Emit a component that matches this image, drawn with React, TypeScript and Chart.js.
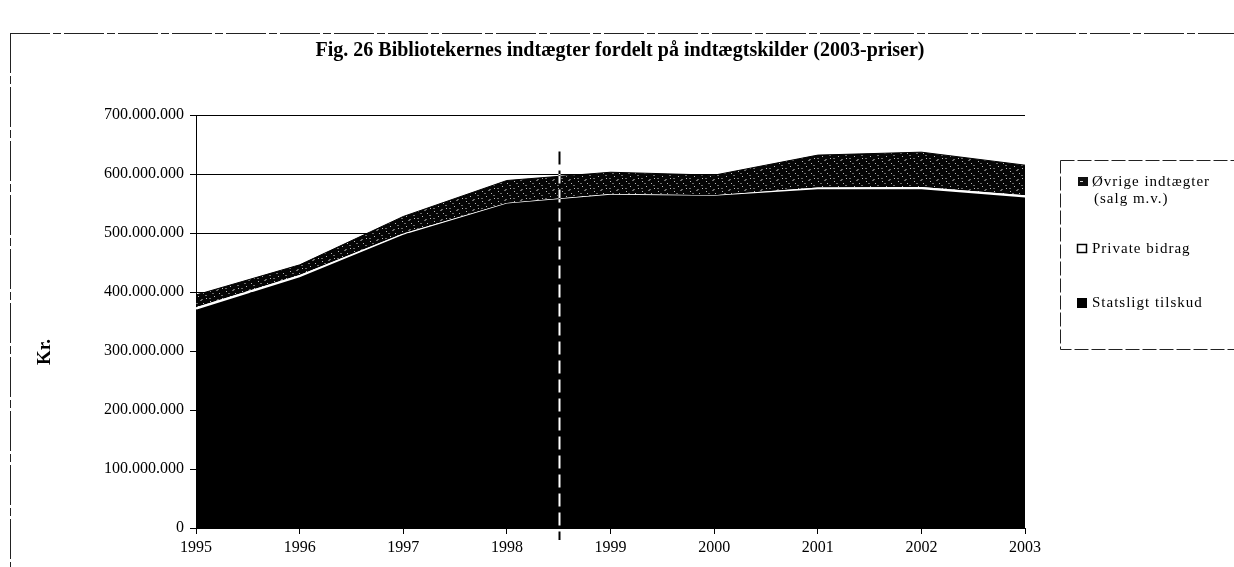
import React, { useEffect, useRef } from "react";
import { Chart, registerables } from "chart.js";

Chart.register(...registerables);

// Data (mio. kr., 2003-priser)
const years = ["1995", "1996", "1997", "1998", "1999", "2000", "2001", "2002", "2003"];
const statsligtTilskud = [370, 425, 497, 550, 565, 563, 574, 574, 560];
const privateBidrag = [4, 4, 2, 1, 1, 1, 3, 4, 4];
const oevrigeIndtaegter = [21, 17, 29, 38, 37, 34, 55, 59, 51];
const yTickValues = [0, 100, 200, 300, 400, 500, 600, 700];

const titleText = "Fig. 26 Bibliotekernes indtægter fordelt på indtægtskilder (2003-priser)";
const yAxisTitle = "Kr.";
const legendOevrige = ["Øvrige indtægter", "(salg m.v.)"];
const legendPrivate = "Private bidrag";
const legendStat = "Statsligt tilskud";

const MIO = 1000000;
const SERIF = "'Liberation Serif', 'DejaVu Serif', serif";

function fmt(v: number): string {
  return Math.round(v).toString().replace(/\B(?=(\d{3})+(?!\d))/g, ".");
}

function makePattern(): CanvasPattern | string {
  const c = document.createElement("canvas");
  c.width = 16;
  c.height = 10;
  const g = c.getContext("2d");
  if (!g) return "#111";
  g.fillStyle = "#050505";
  g.fillRect(0, 0, 16, 10);
  g.fillStyle = "#bdbdbd";
  const light = [[2, 1], [11, 3], [6, 6], [14, 8]];
  light.forEach(([x, y]) => g.fillRect(x, y, 1, 1));
  g.fillStyle = "#6a6a6a";
  const mid = [[8, 0], [4, 3], [13, 5], [1, 8], [9, 9]];
  mid.forEach(([x, y]) => g.fillRect(x, y, 2, 1));
  const p = g.createPattern(c, "repeat");
  return p || "#111";
}

const decorPlugin = {
  id: "decor",
  beforeDraw(chart: any) {
    const ctx = chart.ctx as CanvasRenderingContext2D;
    ctx.save();
    ctx.fillStyle = "#fff";
    ctx.fillRect(0, 0, chart.width, chart.height);
    // outer frame
    ctx.strokeStyle = "#222";
    ctx.lineWidth = 1;
    ctx.setLineDash([40, 3, 8, 3]);
    ctx.beginPath();
    ctx.moveTo(10, 33.5);
    ctx.lineTo(1234, 33.5);
    ctx.moveTo(10.5, 33);
    ctx.lineTo(10.5, 567);
    ctx.stroke();
    ctx.setLineDash([]);
    // title
    ctx.fillStyle = "#000";
    ctx.font = `bold 20px ${SERIF}`;
    ctx.textAlign = "center";
    ctx.textBaseline = "middle";
    ctx.fillText(titleText, 620, 51);
    // y axis title
    ctx.save();
    ctx.translate(45, 352);
    ctx.rotate(-Math.PI / 2);
    ctx.font = `bold 19px ${SERIF}`;
    ctx.fillText(yAxisTitle, 0, 0);
    ctx.restore();
    ctx.restore();
  },
  afterDraw(chart: any) {
    const ctx = chart.ctx as CanvasRenderingContext2D;
    const xs = chart.scales.x;
    const ys = chart.scales.y;
    ctx.save();
    // dashed separator between 1998 and 1999
    const xm = Math.round((xs.getPixelForValue(3) + xs.getPixelForValue(4)) / 2) + 0.5;
    ctx.globalCompositeOperation = "difference";
    ctx.strokeStyle = "#fff";
    ctx.lineWidth = 2;
    ctx.setLineDash([13, 6]);
    ctx.beginPath();
    ctx.moveTo(xm, ys.getPixelForValue(638 * MIO));
    ctx.lineTo(xm, ys.bottom + 12);
    ctx.stroke();
    ctx.restore();

    // legend
    ctx.save();
    ctx.strokeStyle = "#222";
    ctx.lineWidth = 1;
    ctx.setLineDash([14, 3]);
    ctx.strokeRect(1060.5, 160.5, 200, 189);
    ctx.setLineDash([]);
    ctx.font = `15px ${SERIF}`;
    ctx.textAlign = "left";
    ctx.textBaseline = "middle";
    (ctx as any).letterSpacing = "1px";
    // Øvrige swatch
    ctx.fillStyle = "#111";
    ctx.fillRect(1078, 177, 10, 9);
    ctx.fillStyle = "#ddd";
    ctx.fillRect(1080, 181, 3, 1);
    ctx.fillStyle = "#000";
    ctx.fillText(legendOevrige[0], 1092, 182);
    ctx.fillText(legendOevrige[1], 1094, 199);
    // Private swatch
    ctx.fillStyle = "#fff";
    ctx.fillRect(1077, 244, 10, 9);
    ctx.strokeStyle = "#000";
    ctx.lineWidth = 1.5;
    ctx.strokeRect(1077.5, 244.5, 9, 8);
    ctx.fillStyle = "#000";
    ctx.fillText(legendPrivate, 1092, 249);
    // Stat swatch
    ctx.fillRect(1077, 298, 10, 10);
    ctx.fillText(legendStat, 1092, 303);
    ctx.restore();
  },
};

export default function App() {
  const ref = useRef<HTMLCanvasElement | null>(null);

  useEffect(() => {
    if (!ref.current) return;
    const pattern = makePattern();
    const chart = new Chart(ref.current, {
      type: "line",
      data: {
        labels: years,
        datasets: [
          {
            label: legendStat,
            data: statsligtTilskud.map((v) => v * MIO),
            backgroundColor: "#000",
            borderColor: "#000",
            borderWidth: 0,
            pointRadius: 0,
            fill: "origin",
            tension: 0,
          },
          {
            label: legendPrivate,
            data: privateBidrag.map((v) => v * MIO),
            backgroundColor: "#fff",
            borderColor: "#fff",
            borderWidth: 0,
            pointRadius: 0,
            fill: "-1",
            tension: 0,
          },
          {
            label: legendOevrige.join(" "),
            data: oevrigeIndtaegter.map((v) => v * MIO),
            backgroundColor: pattern as any,
            borderColor: "#000",
            borderWidth: 1,
            pointRadius: 0,
            fill: "-1",
            tension: 0,
          },
        ],
      },
      options: {
        animation: false,
        responsive: false,
        devicePixelRatio: 1,
        layout: { padding: { top: 115, right: 209, bottom: 0, left: 0 } },
        plugins: {
          legend: { display: false },
          title: { display: false },
          tooltip: { enabled: false },
        },
        scales: {
          x: {
            type: "category",
            offset: false,
            afterFit: (s: any) => {
              s.height = 39;
            },
            grid: { drawOnChartArea: false, drawTicks: true, tickLength: 6, color: "#000" },
            border: { color: "#000", width: 1 },
            ticks: {
              color: "#000",
              font: { family: SERIF, size: 16 },
              maxRotation: 0,
              autoSkip: false,
              padding: 4,
            },
          },
          y: {
            stacked: true,
            min: 0,
            max: 700 * MIO,
            afterFit: (s: any) => {
              s.width = 196;
            },
            afterBuildTicks: (s: any) => {
              s.ticks = yTickValues.map((v) => ({ value: v * MIO }));
            },
            grid: { color: "#000", lineWidth: 1, tickLength: 6, drawTicks: true },
            border: { color: "#000", width: 1 },
            ticks: {
              color: "#000",
              font: { family: SERIF, size: 16 },
              padding: 6,
              callback: (v: any) => fmt(Number(v)),
            },
          },
        },
      },
      plugins: [decorPlugin],
    });
    return () => chart.destroy();
  }, []);

  return (
    <div style={{ position: "absolute", left: 0, top: 0, width: 1234, height: 567 }}>
      <canvas ref={ref} width={1234} height={567} style={{ display: "block" }} />
    </div>
  );
}
